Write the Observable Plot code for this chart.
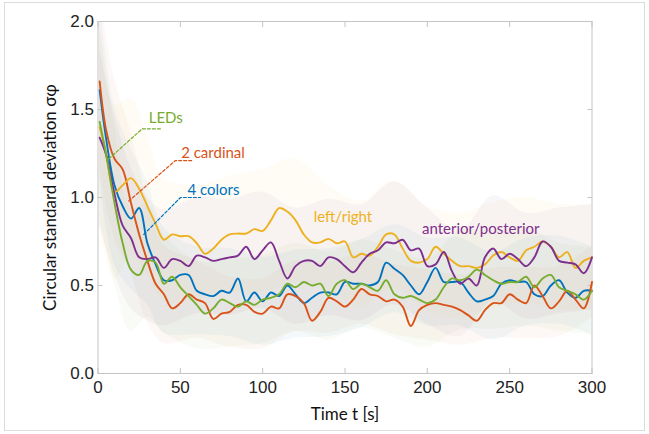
<!DOCTYPE html>
<html><head><meta charset="utf-8">
<script src="https://cdn.jsdelivr.net/npm/d3@7"></script>
<script src="https://cdn.jsdelivr.net/npm/@observablehq/plot@0.6"></script>
<style>
body{margin:0;background:#fff;}
#wrap{position:relative;width:649px;height:434px;}
#border{position:absolute;left:4px;top:2px;width:641px;height:429px;border:1px solid #dcdcdc;pointer-events:none;box-sizing:border-box;}
</style></head><body><div id="wrap"><div id="border"></div></div>
<script>
const times = [1,5,10,15,20,25,30,35,40,45,50,55,60,65,70,75,80,85,90,95,100,105,110,115,120,125,130,135,140,145,150,155,160,165,170,175,180,185,190,195,200,205,210,215,220,225,230,235,240,245,250,255,260,265,270,275,280,285,290,295,300];

const colors4 = [1.61,1.33,1.07,0.95,0.88,0.94,0.74,0.62,0.53,0.53,
  0.56,0.56,0.47,0.45,0.44,0.47,0.46,0.54,0.41,0.46,
  0.41,0.46,0.44,0.50,0.45,0.40,0.43,0.46,0.46,0.45,
  0.52,0.51,0.51,0.50,0.52,0.63,0.595,0.56,0.50,0.45,
  0.52,0.60,0.52,0.52,0.52,0.46,0.41,0.42,0.44,0.51,
  0.53,0.52,0.52,0.45,0.44,0.50,0.53,0.46,0.43,0.47,0.47];
const cardinal2 = [1.66,1.38,1.22,1.16,0.97,0.79,0.64,0.51,0.45,0.37,
  0.40,0.45,0.42,0.40,0.31,0.34,0.35,0.39,0.39,0.35,
  0.34,0.38,0.37,0.45,0.44,0.40,0.30,0.35,0.43,0.41,
  0.38,0.42,0.48,0.45,0.44,0.41,0.42,0.38,0.27,0.36,
  0.39,0.40,0.39,0.38,0.36,0.33,0.30,0.36,0.40,0.40,
  0.45,0.42,0.40,0.50,0.44,0.37,0.41,0.47,0.42,0.37,0.52];
const leftRight = [1.40,1.25,1.03,1.07,1.11,1.05,0.95,0.85,0.76,0.79,
  0.78,0.78,0.74,0.68,0.71,0.76,0.79,0.795,0.795,0.82,
  0.81,0.87,0.94,0.92,0.87,0.79,0.745,0.745,0.765,0.74,
  0.75,0.66,0.68,0.67,0.72,0.79,0.79,0.71,0.64,0.63,
  0.65,0.72,0.68,0.64,0.61,0.61,0.60,0.62,0.67,0.69,
  0.66,0.64,0.70,0.72,0.75,0.72,0.66,0.69,0.60,0.64,0.66];
const antPost = [1.34,1.24,1.02,0.84,0.77,0.66,0.65,0.66,0.60,0.65,
  0.64,0.61,0.67,0.66,0.64,0.65,0.66,0.67,0.72,0.65,
  0.70,0.745,0.64,0.54,0.61,0.64,0.64,0.61,0.66,0.65,
  0.61,0.575,0.63,0.68,0.70,0.745,0.74,0.76,0.70,0.71,
  0.61,0.62,0.69,0.58,0.51,0.54,0.50,0.66,0.71,0.65,
  0.68,0.65,0.61,0.66,0.75,0.72,0.64,0.63,0.62,0.57,0.66];
const leds = [1.43,1.24,0.97,0.74,0.59,0.56,0.64,0.63,0.51,0.55,
  0.49,0.44,0.39,0.34,0.37,0.42,0.40,0.38,0.41,0.39,
  0.42,0.43,0.45,0.51,0.49,0.52,0.50,0.51,0.44,0.51,
  0.53,0.48,0.51,0.49,0.47,0.53,0.45,0.43,0.44,0.42,
  0.40,0.42,0.49,0.54,0.53,0.55,0.59,0.56,0.53,0.51,
  0.52,0.52,0.55,0.49,0.54,0.56,0.49,0.47,0.45,0.42,0.47];

// shaded band half-widths (read coarsely) at these times
const bandTimes = [1,10,20,30,40,60,80,100,120,140,160,180,200,220,240,260,280,300];
const bandColors4 = [0.5,0.45,0.4,0.35,0.3,0.25,0.25,0.25,0.25,0.25,0.25,0.25,0.25,0.25,0.25,0.25,0.25,0.25];
const bandCardinal2 = [0.5,0.45,0.4,0.35,0.28,0.22,0.2,0.2,0.2,0.2,0.2,0.2,0.2,0.2,0.2,0.2,0.2,0.2];
const bandLeftRight = [0.55,0.5,0.45,0.4,0.35,0.33,0.33,0.35,0.35,0.3,0.3,0.3,0.3,0.3,0.3,0.3,0.3,0.3];
const bandAntPost = [0.5,0.45,0.4,0.35,0.33,0.33,0.33,0.33,0.33,0.33,0.33,0.35,0.33,0.3,0.3,0.3,0.3,0.3];
const bandLeds = [0.55,0.45,0.35,0.32,0.28,0.25,0.25,0.25,0.25,0.25,0.25,0.25,0.25,0.28,0.28,0.28,0.25,0.25];

const seriesNames = ["4 colors","2 cardinal","left/right","anterior/posterior","LEDs"];
const seriesColors = ["#0072BD","#D95319","#EDB120","#7E2F8E","#77AC30"];
const seriesValues = [colors4, cardinal2, leftRight, antPost, leds];
const seriesBands = [bandColors4, bandCardinal2, bandLeftRight, bandAntPost, bandLeds];

const xTicks = [0,50,100,150,200,250,300];
const yTicks = [0,0.5,1.0,1.5,2.0];

// annotations
const annLabels = ["LEDs","2 cardinal","4 colors","left/right","anterior/posterior"];
const annT = [30.8, 50.5, 54.3, 131, 196.8];
const annV = [1.449, 1.252, 1.041, 0.888, 0.82];
const leaderName = ["LEDs","LEDs","LEDs","2 cardinal","2 cardinal","2 cardinal","4 colors","4 colors","4 colors"];
const leaderT = [6.6,26.8,38, 18.7,47,57.2, 27.8,50.1,62.3];
const leaderV = [1.22,1.39,1.39, 0.98,1.21,1.21, 0.79,1.0,1.0];

const rows = seriesNames.flatMap((name,k) => times.map((t,i) => ({t, v: seriesValues[k][i], name})));
const bandRows = seriesNames.flatMap((name,k) => bandTimes.map((t,j) => {
  const i = times.indexOf(t);
  return {t, lo: seriesValues[k][i] - seriesBands[k][j], hi: seriesValues[k][i] + seriesBands[k][j], name};
}));
const leaders = leaderName.map((name,i) => ({name, t: leaderT[i], v: leaderV[i]}));
const anns = annLabels.map((name,i) => ({name, t: annT[i], v: annV[i]}));

const gray = "#c4c4c4";
const chart = Plot.plot({
  width: 649, height: 434,
  marginLeft: 97.5, marginRight: 57.5, marginTop: 21, marginBottom: 61,
  style: {fontFamily: "'Liberation Sans', Arial, sans-serif", fontSize: "17px", color: "#222", background: "transparent", overflow: "visible"},
  x: {domain: [0,300]},
  y: {domain: [0,2]},
  color: {domain: seriesNames, range: seriesColors},
  marks: [
    Plot.areaY(bandRows, {x: "t", y1: "lo", y2: "hi", z: "name", fill: "name", fillOpacity: 0.045, curve: "catmull-rom", clip: true}),
    Plot.frame({stroke: gray}),
    Plot.axisX({anchor: "bottom", ticks: xTicks, tickSize: 5, dy: -5, tickFormat: () => "", label: null, stroke: gray}),
    Plot.axisX({anchor: "top", ticks: xTicks, tickSize: 5, dy: 5, tickFormat: () => "", label: null, stroke: gray}),
    Plot.axisY({anchor: "left", ticks: yTicks, tickSize: 5, dx: 5, tickFormat: () => "", label: null, stroke: gray}),
    Plot.axisY({anchor: "right", ticks: yTicks, tickSize: 5, dx: -5, tickFormat: () => "", label: null, stroke: gray}),
    Plot.axisX({anchor: "bottom", ticks: xTicks, tickSize: 0, tickPadding: 7, label: null, fill: "#222", fontSize: 17}),
    Plot.axisY({anchor: "left", ticks: yTicks, tickSize: 0, tickPadding: 4, tickFormat: d3.format(".1f"), label: null, fill: "#222", fontSize: 17}),
    Plot.line(rows, {x: "t", y: "v", z: "name", stroke: "name", strokeWidth: 1.9, curve: "catmull-rom"}),
    Plot.line(leaders, {x: "t", y: "v", z: "name", stroke: "name", strokeWidth: 1.2, strokeDasharray: "3,2"}),
    Plot.text(anns, {x: "t", y: "v", text: "name", fill: "name", textAnchor: "start", fontSize: 15, fontFamily: "Lato, 'Open Sans', sans-serif"}),
    Plot.text(["Time t [s]"], {frameAnchor: "bottom", textAnchor: "middle", lineAnchor: "middle", dy: 41, fontSize: 17, fontFamily: "Lato, sans-serif", fill: "#111"}),
    Plot.text(["Circular standard deviation σφ"], {frameAnchor: "left", textAnchor: "middle", lineAnchor: "middle", dx: -47.5, rotate: -90, fontSize: 17, fontFamily: "Lato, sans-serif", fill: "#111"})
  ]
});
document.getElementById("wrap").prepend(chart);
</script>
</body></html>
